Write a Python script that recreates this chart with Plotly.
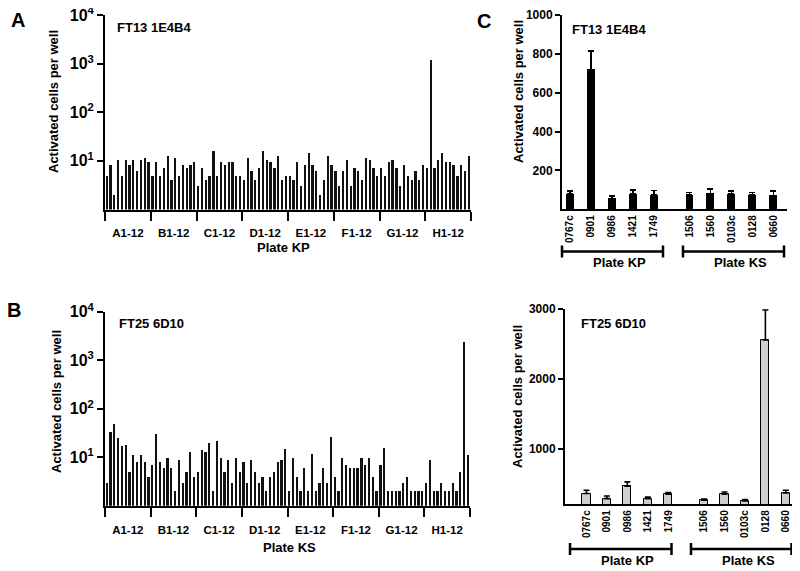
import plotly.graph_objects as go

# ---------------- data ----------------
group_labels = ["A1-12", "B1-12", "C1-12", "D1-12", "E1-12", "F1-12", "G1-12", "H1-12"]

kp_wells_ft13 = [
    5, 8.2, 2, 10.3, 5, 10.3, 8.2, 10.3, 6.2, 10.3, 11.4, 9.4,
    5, 9.4, 5, 7.2, 12.5, 4, 11.4, 5, 8.2, 7.2, 8.2, 9.4,
    3, 7.2, 4, 5, 15.7, 5, 9.4, 8.2, 9.4, 9.4, 5, 5,
    4, 11.4, 6.2, 4, 7.2, 15.7, 10.3, 9.4, 7.2, 12.5, 4, 5,
    5, 4, 9.4, 3, 8.2, 14.3, 8.2, 6.2, 2, 4, 12.5, 8.2,
    6.2, 3, 6.2, 10.3, 3, 7.2, 6.2, 4, 11.4, 10.3, 7.2, 5,
    7.2, 5, 9.4, 10.3, 7.2, 3, 8.2, 5, 4, 6.2, 4, 8.2,
    7.2, 1200, 7.2, 10.3, 14.3, 9.4, 9.4, 8.2, 5, 8.2, 6.2, 12.5,
]

ks_wells_ft25 = [
    3, 34, 50, 25, 17, 18, 5, 11, 8, 11, 8, 4,
    7, 30, 8, 6, 10, 6, 2, 9, 3, 5, 13, 4,
    5, 14, 13, 20, 2, 22, 10, 5, 9, 3, 10, 5,
    8, 3, 9, 5, 3, 4, 2, 4, 5, 8, 9, 15,
    2, 10, 4, 2, 6, 2, 12, 2, 3, 6, 3, 26,
    4, 2, 10, 7, 6, 6, 6, 10, 7, 10, 4, 2,
    7, 16, 2, 2, 2, 2, 3, 4, 2, 2, 2, 2,
    3, 9, 2, 2, 3, 2, 2, 3, 2, 5, 2400, 11,
]

log_tickvals = [10, 100, 1000, 10000]
log_ticktext = ["10<sup>1</sup>", "10<sup>2</sup>", "10<sup>3</sup>", "10<sup>4</sup>"]

kp_clones = ["0767c", "0901", "0986", "1421", "1749"]
ks_clones = ["1506", "1560", "0103c", "0128", "0660"]

ft13_mean = [79, 720, 56, 79, 75, 75, 82, 79, 75, 72]
ft13_top = [94, 816, 67, 99, 96, 87, 103, 94, 87, 93]

ft25_mean = [354, 282, 459, 282, 344, 258, 344, 248, 2555, 363]
ft25_top = [401, 320, 521, 305, 368, 277, 377, 268, 2986, 401]

# ---------------- helpers ----------------
FONT = "Liberation Sans, Arial, sans-serif"
OFF = 8  # page body margin
W, H = 800 - OFF, 571 - OFF


def px(x):
    return (x - OFF) / W


def py(y):
    return 1 - (y - OFF) / H


fig = go.Figure()

n_per_group = 12
well_x = list(range(len(kp_wells_ft13)))
group_centers = [g * n_per_group + (n_per_group - 1) / 2 for g in range(len(group_labels))]
group_bounds = [g * n_per_group - 0.5 for g in range(len(group_labels) + 1)]

# Panel A
fig.add_trace(go.Bar(x=well_x, y=kp_wells_ft13, width=0.45, marker=dict(color="#111111", line=dict(width=0)),
                     xaxis="x", yaxis="y", showlegend=False))
# Panel B
fig.add_trace(go.Bar(x=well_x, y=ks_wells_ft25, width=0.45, marker=dict(color="#111111", line=dict(width=0)),
                     xaxis="x2", yaxis="y2", showlegend=False))

clones = kp_clones + ks_clones
gap_top = 0.7
gap_bot = 0.75
cx_top = [i + (gap_top if i >= len(kp_clones) else 0) for i in range(len(clones))]
cx_bot = [i + (gap_bot if i >= len(kp_clones) else 0) for i in range(len(clones))]

err13 = [t - m for t, m in zip(ft13_top, ft13_mean)]
err25 = [t - m for t, m in zip(ft25_top, ft25_mean)]

fig.add_trace(go.Bar(x=cx_top, y=ft13_mean, width=0.38,
                     marker=dict(color="black", line=dict(color="black", width=0)),
                     error_y=dict(type="data", symmetric=False, array=err13, arrayminus=[0] * len(err13),
                                  color="black", thickness=1.6, width=3),
                     xaxis="x3", yaxis="y3", showlegend=False))
fig.add_trace(go.Bar(x=cx_bot, y=ft25_mean, width=0.4,
                     marker=dict(color="#cfcfcf", line=dict(color="black", width=1)),
                     error_y=dict(type="data", symmetric=False, array=err25, arrayminus=[0] * len(err25),
                                  color="black", thickness=1.6, width=3),
                     xaxis="x4", yaxis="y4", showlegend=False))

axis_common = dict(showline=True, linecolor="black", linewidth=2, showgrid=False, zeroline=False,
                   automargin=False, ticklabeloverflow="allow")

log_y = dict(axis_common, type="log", range=[0, 4], tickvals=log_tickvals, ticktext=log_ticktext,
             ticks="outside", ticklen=6, tickwidth=2, tickcolor="black",
             tickfont=dict(family=FONT, size=16, color="black", weight="bold"))

well_xaxis = dict(axis_common, range=[-0.5, len(well_x) - 0.5], tickvals=group_centers, ticktext=group_labels,
                  ticks="outside", ticklen=12, tickcolor="rgba(0,0,0,0)",
                  tickfont=dict(family=FONT, size=11.5, color="black", weight="bold"),
                  minor=dict(tickvals=group_bounds, ticks="outside", ticklen=9, tickwidth=2, tickcolor="black"))

fig.update_layout(
    template="none",
    width=W, height=H, margin=dict(l=0, r=0, t=0, b=0, autoexpand=False),
    paper_bgcolor="white", plot_bgcolor="white", bargap=0,
    font=dict(family=FONT, color="black"),
    xaxis=dict(well_xaxis, domain=[px(105), px(471)], anchor="y"),
    yaxis=dict(log_y, domain=[py(209.5), py(15)], anchor="x"),
    xaxis2=dict(well_xaxis, domain=[px(105), px(470)], anchor="y2"),
    yaxis2=dict(log_y, domain=[py(505.7), py(311.7)], anchor="x2"),
    xaxis3=dict(axis_common, domain=[px(562), px(787)], anchor="y3", range=[-0.38, 10.35],
                tickvals=cx_top, ticktext=clones, tickangle=-90, ticks="",
                tickfont=dict(family=FONT, size=10, color="black", weight="bold")),
    yaxis3=dict(axis_common, domain=[py(209.3), py(15)], anchor="x3", range=[0, 1000],
                tickvals=[200, 400, 600, 800, 1000], ticks="outside", ticklen=5, tickwidth=2,
                tickcolor="black",
                tickfont=dict(family=FONT, size=12, color="black", weight="bold")),
    xaxis4=dict(axis_common, domain=[px(565), px(793)], anchor="y4", range=[-1.05, 10.1],
                tickvals=cx_bot, ticktext=clones, tickangle=-90, ticks="",
                tickfont=dict(family=FONT, size=10, color="black", weight="bold")),
    yaxis4=dict(axis_common, domain=[py(504.3), py(309)], anchor="x4", range=[200, 3000],
                tickvals=[1000, 2000, 3000], ticks="outside", ticklen=5, tickwidth=2,
                tickcolor="black",
                tickfont=dict(family=FONT, size=12, color="black", weight="bold")),
)


def ann(text, x, y, size, angle=0):
    fig.add_annotation(text=text, x=px(x), y=py(y), xref="paper", yref="paper", showarrow=False,
                       xanchor="center", yanchor="middle", textangle=angle,
                       font=dict(family=FONT, size=size, color="black", weight="bold"))


# panel letters
ann("A", 17.5, 20, 20)
ann("B", 14, 310, 20)
ann("C", 484, 21, 20)

# y titles
ytitle = "Activated cells per well"
ann(ytitle, 53, 102, 13, -90)
ann(ytitle, 56, 402, 13, -90)
ann(ytitle, 518, 92, 13, -90)
ann(ytitle, 517, 396, 13, -90)

# inner labels
ann("FT13 1E4B4", 153.5, 28, 13)
ann("FT25 6D10", 151.5, 323, 13)
ann("FT13 1E4B4", 609, 29, 13)
ann("FT25 6D10", 613, 323, 13)

# x titles
ann("Plate KP", 283, 248, 13)
ann("Plate KS", 289, 547, 13)


def bracket(x0, x1, y, label, ly):
    fig.add_shape(type="line", xref="paper", yref="paper", x0=px(x0), x1=px(x1), y0=py(y), y1=py(y),
                  line=dict(color="black", width=2.5))
    for xx in (x0, x1):
        fig.add_shape(type="line", xref="paper", yref="paper", x0=px(xx), x1=px(xx), y0=py(y - 6), y1=py(y + 6),
                      line=dict(color="black", width=2.5))
    ann(label, (x0 + x1) / 2 + 7, ly, 13)


bracket(562, 663, 251.5, "Plate KP", 262)
bracket(683, 784, 251.5, "Plate KS", 262)
bracket(570, 671.5, 549, "Plate KP", 560)
bracket(691, 791.5, 549, "Plate KS", 560)

fig.write_html("out.html")
